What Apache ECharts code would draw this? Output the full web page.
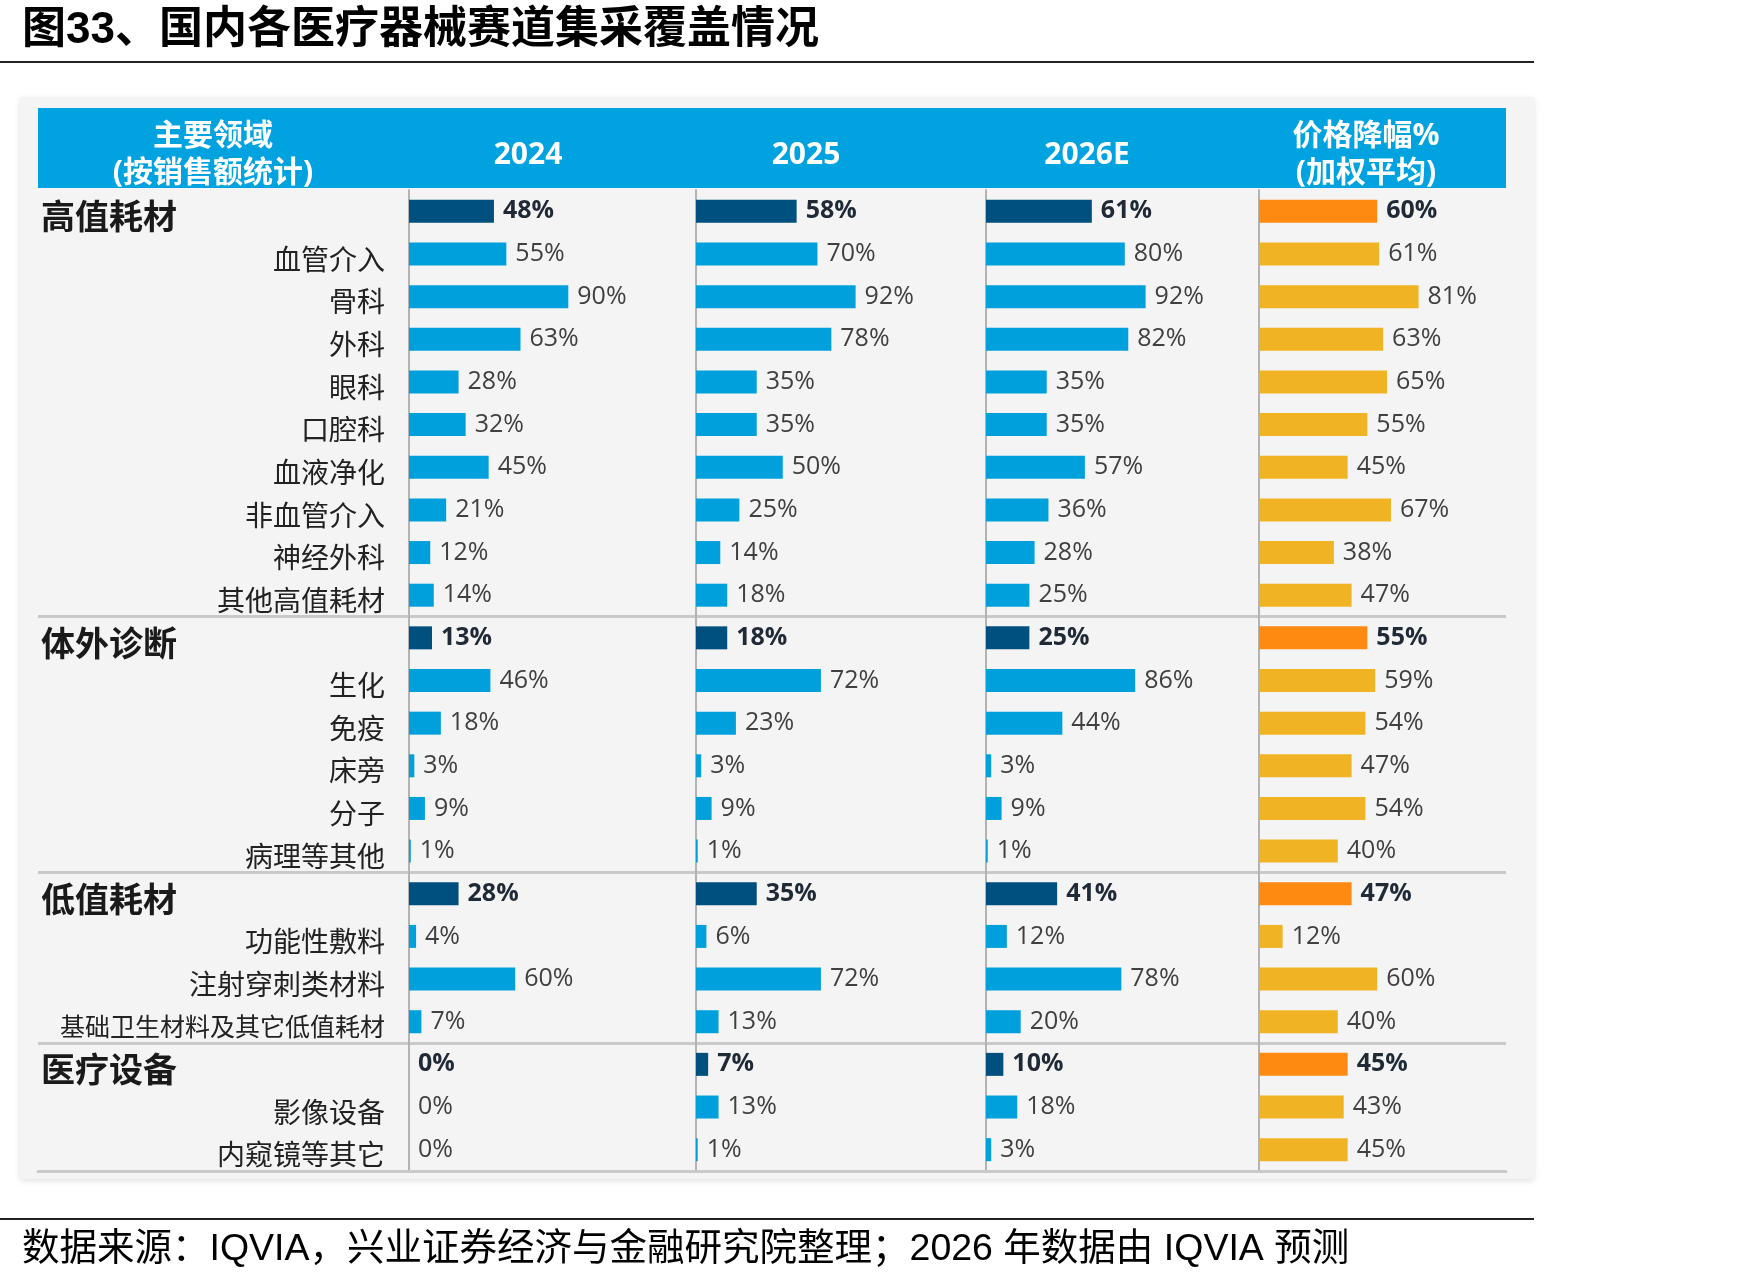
<!DOCTYPE html>
<html>
<head>
<meta charset="utf-8">
<script src="https://cdn.jsdelivr.net/npm/echarts@6/dist/echarts.min.js"></script>
<style>
  html, body { margin: 0; padding: 0; background: #fff; }
  #chart { width: 1749px; height: 1279px; }
</style>
</head>
<body>
<div id="chart"></div>
<script>
// 行（自上而下）
const categories = ['高值耗材', '血管介入', '骨科', '外科', '眼科', '口腔科', '血液净化', '非血管介入', '神经外科', '其他高值耗材',
  '体外诊断', '生化', '免疫', '床旁', '分子', '病理等其他',
  '低值耗材', '功能性敷料', '注射穿刺类材料', '基础卫生材料及其它低值耗材',
  '医疗设备', '影像设备', '内窥镜等其它'];
// 大类行（加粗、深色柱）
const groupNames = ['高值耗材', '体外诊断', '低值耗材', '医疗设备'];

// 集采覆盖率 %
const cover2024 = [48, 55, 90, 63, 28, 32, 45, 21, 12, 14, 13, 46, 18, 3, 9, 1, 28, 4, 60, 7, 0, 0, 0];
const cover2025 = [58, 70, 92, 78, 35, 35, 50, 25, 14, 18, 18, 72, 23, 3, 9, 1, 35, 6, 72, 13, 7, 13, 1];
const cover2026 = [61, 80, 92, 82, 35, 35, 57, 36, 28, 25, 25, 86, 44, 3, 9, 1, 41, 12, 78, 20, 10, 18, 3];
// 价格降幅 %（加权平均）
const priceCut = [60, 61, 81, 63, 65, 55, 45, 67, 38, 47, 55, 59, 54, 47, 54, 40, 47, 12, 60, 40, 45, 43, 45];

const headerLabels = ['主要领域\n(按销售额统计)', '2024', '2025', '2026E', '价格降幅%\n(加权平均)'];

const chart = echarts.init(document.getElementById('chart'));

const TOP = 190, H = 981;
const CJK = "'Noto Sans CJK SC', sans-serif";
const NUM = "'Open Sans', 'Noto Sans CJK SC', sans-serif";
const isGroup = name => groupNames.indexOf(name) >= 0;

const cols = [
  { left: 409, width: 177, values: cover2024, main: '#00a0dc', dark: '#00507f' },
  { left: 696, width: 173.5, values: cover2025, main: '#00a0dc', dark: '#00507f' },
  { left: 986, width: 173.5, values: cover2026, main: '#00a0dc', dark: '#00507f' },
  { left: 1259, width: 197, values: priceCut, main: '#f0b323', dark: '#ff8a12' }
];
const headerX = [213, 528, 806, 1087, 1366];

// 背景网格：只画分组分隔线
const grid = [{ left: 38, width: 1468, top: TOP, height: H, outerBoundsMode: 'none' }];
const xAxis = [{
  gridIndex: 0, type: 'value', min: 0, max: 1,
  axisLine: { show: true, lineStyle: { color: '#c9c9c9', width: 3 } },
  axisTick: { show: false }, axisLabel: { show: false }, splitLine: { show: false }
}];
const yAxis = [{
  gridIndex: 0, type: 'category', data: categories, inverse: true,
  axisLine: { show: false }, axisTick: { show: false }, axisLabel: { show: false },
  splitLine: {
    show: true,
    interval: (idx, val) => idx > 0 && isGroup(val),
    lineStyle: { color: '#c9c9c9', width: 3 }
  }
}];
const series = [];

cols.forEach((c, i) => {
  const gi = i + 1;
  grid.push({ left: c.left, width: c.width, top: TOP, height: H, outerBoundsMode: 'none' });
  xAxis.push({ gridIndex: gi, type: 'value', min: 0, max: 100, show: false });
  yAxis.push({
    gridIndex: gi, type: 'category', data: categories, inverse: true,
    axisLine: { show: true, lineStyle: { color: '#b3b3b3', width: 2 } },
    axisTick: { show: false },
    splitLine: { show: false },
    axisLabel: {
      show: i === 0,
      interval: 0,
      margin: 24,
      padding: [10, 0, 0, 0],
      formatter: v => isGroup(v) ? '{g|' + v + '}' : (v.length > 10 ? '{l|' + v + '}' : '{s|' + v + '}'),
      rich: {
        g: { fontSize: 34, fontWeight: 'bold', color: '#1a1a1a', width: 344, align: 'left', fontFamily: CJK },
        s: { fontSize: 28, color: '#222', fontFamily: CJK },
        l: { fontSize: 25, color: '#222', fontFamily: CJK }
      }
    }
  });
  series.push({
    type: 'bar',
    xAxisIndex: gi,
    yAxisIndex: gi,
    barWidth: 23,
    data: c.values.map((v, k) => {
      const g = isGroup(categories[k]);
      return {
        value: v,
        itemStyle: { color: g ? c.dark : c.main },
        label: g ? { fontWeight: 'bold', color: '#1f2a36' } : {}
      };
    }),
    label: {
      show: true, position: 'right', distance: 9,
      formatter: p => p.value + '%',
      fontSize: 25, color: '#404040', fontFamily: NUM
    }
  });
});

const graphic = [
  { type: 'text', left: 22, top: 9, z: 10,
    style: { text: '图33、国内各医疗器械赛道集采覆盖情况', fontSize: 44, fontWeight: 'bold', fill: '#000',
      fontFamily: "'Liberation Sans', 'Noto Sans CJK SC', sans-serif" } },
  { type: 'line', z: 10, shape: { x1: 0, y1: 62, x2: 1534, y2: 62 }, style: { stroke: '#222', lineWidth: 2 } },
  { type: 'rect', z: -10, silent: true, shape: { x: 20, y: 97, width: 1514, height: 1082 },
    style: { fill: '#f4f4f4', shadowBlur: 6, shadowColor: 'rgba(0,0,0,0.12)', shadowOffsetY: 2 } },
  { type: 'rect', z: -5, shape: { x: 38, y: 108, width: 1468, height: 80 }, style: { fill: '#00a2df' } },
  { type: 'line', z: 10, shape: { x1: 0, y1: 1219, x2: 1534, y2: 1219 }, style: { stroke: '#222', lineWidth: 2 } },
  { type: 'text', left: 22, top: 1231, z: 10,
    style: { text: '数据来源：IQVIA，兴业证券经济与金融研究院整理；2026 年数据由 IQVIA 预测', fontSize: 37.5, fill: '#000',
      fontFamily: "'Liberation Sans', 'Noto Sans CJK SC', sans-serif" } }
];
headerLabels.forEach((t, i) => {
  graphic.push({
    type: 'text', z: 10,
    x: headerX[i], y: 155,
    style: {
      text: t, align: 'center', verticalAlign: 'middle',
      fontSize: 30, fontWeight: 'bold', fill: '#fff', lineHeight: 37,
      fontFamily: NUM
    }
  });
});

chart.setOption({
  animation: false,
  backgroundColor: '#fff',
  grid, xAxis, yAxis, series, graphic
});
</script>
</body>
</html>
